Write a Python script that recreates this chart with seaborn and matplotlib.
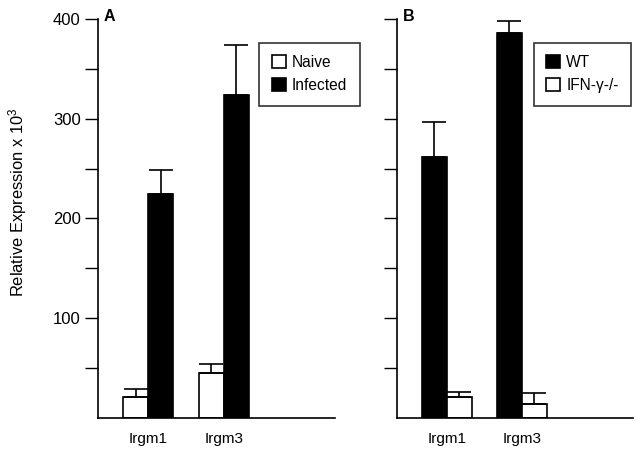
import pandas as pd
import matplotlib
matplotlib.use("Agg")
import matplotlib.pyplot as plt
import seaborn as sns

# Values (Relative Expression x 10^3)
genes = ["Irgm1", "Irgm3"]

groups_a = ["Naive", "Infected"]
naive_vals = [21, 45]
naive_err = [8, 9]
infected_vals = [225, 324]
infected_err = [24, 50]

groups_b = ["WT", "IFN-\u03b3-/-"]
wt_vals = [262, 386]
wt_err = [35, 12]
ko_vals = [21, 14]
ko_err = [5, 11]

ytick_vals = [50, 100, 150, 200, 250, 300, 350, 400]
ytick_labels = ["", "100", "", "200", "", "300", "", "400"]

sns.set_style("ticks", {"text.color": "black", "xtick.color": "black",
                        "ytick.color": "black", "axes.labelcolor": "black",
                        "axes.edgecolor": "black"})
plt.rcParams["font.family"] = ["Liberation Sans", "DejaVu Sans"]
plt.rcParams["mathtext.default"] = "regular"


def make_frame(groups, vals1, err1, vals2, err2):
    rows = []
    for g, v, e in zip(genes, vals1, err1):
        rows.append({"gene": g, "group": groups[0], "value": v, "err": e})
    for g, v, e in zip(genes, vals2, err2):
        rows.append({"gene": g, "group": groups[1], "value": v, "err": e})
    return pd.DataFrame(rows)


def draw_panel(ax, df, groups, colors, letter, show_labels, legend_x):
    sns.barplot(data=df, x="gene", y="value", hue="group", hue_order=groups,
                palette=dict(zip(groups, colors)), edgecolor="black",
                linewidth=1.2, width=0.667, gap=0, errorbar=None,
                saturation=1, ax=ax)
    # one-sided error bars, matched to bars by height
    for p in ax.patches:
        h = p.get_height()
        if p.get_width() <= 0:
            continue
        match = df[df["value"] == round(h)]
        if match.empty:
            continue
        e = match["err"].iloc[0]
        xc = p.get_x() + p.get_width() / 2
        ax.errorbar(xc, h, yerr=[[0], [e]], fmt="none", ecolor="black",
                    elinewidth=1.2, capsize=8.5, capthick=1.2, zorder=1)
    ax.set_ylim(0, 400)
    ax.set_xlim(-0.667, 2.48)
    ax.set_yticks(ytick_vals)
    ax.set_yticklabels(ytick_labels if show_labels else [""] * len(ytick_vals),
                       fontsize=12)
    ax.tick_params(axis="y", length=9.5, width=1.0, direction="out", pad=3)
    ax.tick_params(axis="x", length=0, pad=10, labelsize=11)
    ax.set_xlabel("")
    ax.set_ylabel("")
    sns.despine(ax=ax)
    for s in ["left", "bottom"]:
        ax.spines[s].set_linewidth(1.2)
        ax.spines[s].set_color("black")
    ax.text(0.025, 1.005, letter, transform=ax.transAxes, fontsize=11.5,
            fontweight="bold", va="center", ha="left")
    handles, labels = ax.get_legend_handles_labels()
    leg = ax.legend(handles, labels, loc="upper left",
                    bbox_to_anchor=(legend_x, 0.94), frameon=True,
                    fancybox=False, edgecolor="black", fontsize=11.2,
                    handlelength=0.9, handleheight=0.9, handletextpad=0.4,
                    borderpad=0.8, labelspacing=0.5, borderaxespad=0)
    leg.get_frame().set_linewidth(1.2)
    leg.set_clip_on(False)


fig = plt.figure(figsize=(6.41, 4.54), dpi=100)
ax_a = fig.add_axes([0.153, 0.0793, 0.370, 0.879])
ax_b = fig.add_axes([0.619, 0.0793, 0.368, 0.879])

df_a = make_frame(groups_a, naive_vals, naive_err, infected_vals, infected_err)
df_b = make_frame(groups_b, wt_vals, wt_err, ko_vals, ko_err)

draw_panel(ax_a, df_a, groups_a, ["white", "black"], "A", True, 0.68)
draw_panel(ax_b, df_b, groups_b, ["black", "white"], "B", False, 0.58)

fig.text(0.028, 0.555, "Relative Expression x 10$^3$", rotation=90,
         ha="center", va="center", fontsize=11.9)

fig.savefig("out.png", dpi=100)
